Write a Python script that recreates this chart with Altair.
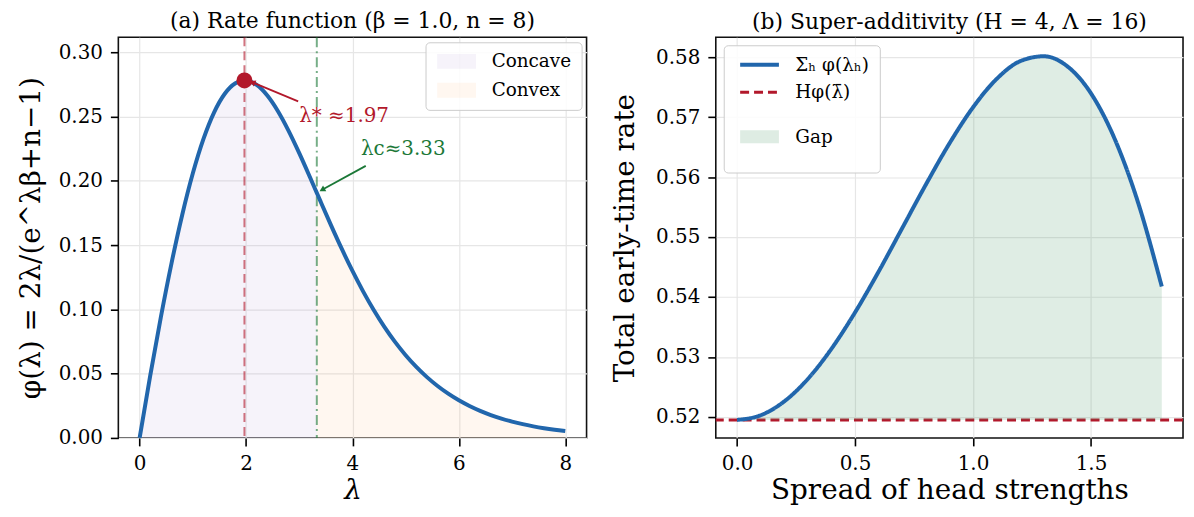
import altair as alt
import pandas as pd

FONT = "DejaVu Serif"
BLUE = "#2166ac"
RED = "#b2182b"
GREEN = "#1b7837"

# ---------------- Panel (a): rate function ----------------
lam = [0.0, 0.2, 0.4, 0.6, 0.8, 1.0, 1.2, 1.4, 1.6, 1.8, 1.97, 2.0, 2.2, 2.4, 2.6,
       2.8, 3.0, 3.2, 3.33, 3.4, 3.6, 3.8, 4.0, 4.2, 4.4, 4.6, 4.8, 5.0, 5.2, 5.4,
       5.6, 5.8, 6.0, 6.2, 6.4, 6.6, 6.8, 7.0, 7.2, 7.4, 7.6, 7.8, 8.0]
phi = [0.0, 0.04865, 0.09421, 0.13602, 0.17343, 0.20580, 0.23256, 0.25327, 0.26771,
       0.27587, 0.27804, 0.27799, 0.27457, 0.26632, 0.25411, 0.23886, 0.22152,
       0.20297, 0.19062, 0.18396, 0.16514, 0.14700, 0.12987, 0.11400, 0.09949,
       0.08640, 0.07470, 0.06434, 0.05524, 0.04728, 0.04037, 0.03439, 0.02924,
       0.02481, 0.02102, 0.01779, 0.01503, 0.01269, 0.01069, 0.00901, 0.00758,
       0.00637, 0.00535]
region_names = ["Concave", "Convex"]
region_colors = ["#8f69c0", "#ff9b43"]
region_opacity = [0.08, 0.08]
lam_star = [1.97]
phi_star = [0.27804]
lam_c = [3.33]

ann_text = ["λ* ≈1.97", "λc≈3.33"]
ann_x = [3.0, 4.16]
ann_y = [0.2502, 0.2247]
arrow_x1 = [2.98, 4.25]
arrow_y1 = [0.2618, 0.2116]
arrow_x2 = [2.12, 3.43]
arrow_y2 = [0.2765, 0.1930]
arrow_angle = [292, 241]
ann_color = [RED, GREEN]

# ---------------- Panel (b): super-additivity ----------------
spread = [0.0, 0.1, 0.2, 0.3, 0.4, 0.5, 0.6, 0.7, 0.8, 0.9, 1.0, 1.1, 1.2, 1.3,
          1.4, 1.5, 1.6, 1.7, 1.8]
total = [0.51950, 0.52028, 0.52259, 0.52633, 0.53136, 0.53742, 0.54423, 0.55148,
         0.55873, 0.56560, 0.57162, 0.57635, 0.57932, 0.58014, 0.57846, 0.57395,
         0.56640, 0.55569, 0.54174]
ref_level = [0.51950]
series_keys = ["sum", "ref", "gap"]
series_colors = [BLUE, RED, "#4f9a68"]
series_dash = [[1, 0], [9, 5], [1, 0]]
series_width = [4, 3, 13]
series_opacity = [1, 1, 0.18]

# ---------------- tables ----------------
curve = pd.DataFrame({"lam": lam, "phi": phi})
concave = curve[curve["lam"] <= lam_c[0]].assign(region=region_names[0])
convex = curve[curve["lam"] >= lam_c[0]].assign(region=region_names[1])
fills = pd.concat([concave, convex], ignore_index=True)
star_df = pd.DataFrame({"lam": lam_star, "phi": phi_star})
vline_star = pd.DataFrame({"lam": lam_star})
vline_c = pd.DataFrame({"lam": lam_c})
ann_df = pd.DataFrame({"lam": ann_x, "phi": ann_y, "txt": ann_text, "c": ann_color})
arrow_df = pd.DataFrame({"lam": arrow_x1, "phi": arrow_y1, "lam2": arrow_x2,
                         "phi2": arrow_y2, "ang": arrow_angle, "c": ann_color})

tot_df = pd.DataFrame({"s": spread, "t": total})
gap_df = tot_df.assign(base=ref_level[0], series="gap")
line_df = tot_df.assign(series="sum")
ref_df = pd.DataFrame({"t": ref_level, "series": ["ref"]})

# ---------------- left panel ----------------
LX_TITLE = "λ"
LY_TITLE = "φ(λ) = 2λ/(e^λβ+n−1)"
lx_scale = alt.Scale(domain=[-0.4, 8.4], nice=False, zero=False)
ly_scale = alt.Scale(domain=[0, 0.3116], nice=False, zero=False)
lx_axis = alt.Axis(values=[0, 2, 4, 6, 8], format="d", titleFontStyle="italic",
                   titlePadding=3)
ly_axis = alt.Axis(values=[0, 0.05, 0.10, 0.15, 0.20, 0.25, 0.30], format=".2f",
                   titlePadding=13)


def LX(f):
    return alt.X(f, type="quantitative", scale=lx_scale, axis=lx_axis, title=LX_TITLE)


def LY(f):
    return alt.Y(f, type="quantitative", scale=ly_scale, axis=ly_axis, title=LY_TITLE,
                 stack=None)


PATCH = "M-1,-1H4.2V1H-1Z"
LINE_SYM = "M-1,0H4.2"

left_legend = alt.Legend(
    title=None, orient="top-right", offset=5,
    symbolType=PATCH, symbolSize=225,
    symbolStrokeWidth=1.5, labelFontSize=18.5, labelOffset=38,
    fillColor="rgba(255,255,255,0.85)", strokeColor="#cccccc", padding=10,
    cornerRadius=4, rowPadding=10,
)

area_a = alt.Chart(fills).mark_area(interpolate="monotone").encode(
    x=LX("lam"), y=LY("phi"),
    color=alt.Color("region:N", scale=alt.Scale(domain=region_names, range=region_colors),
                    legend=left_legend),
    opacity=alt.Opacity("region:N", scale=alt.Scale(type="ordinal", domain=region_names,
                                                    range=region_opacity),
                        legend=left_legend),
)
rule_star = alt.Chart(vline_star).mark_rule(
    color=RED, opacity=0.6, strokeWidth=2, strokeDash=[9, 5]
).encode(x=LX("lam"))
rule_c = alt.Chart(vline_c).mark_rule(
    color=GREEN, opacity=0.6, strokeWidth=2, strokeDash=[10, 4, 2, 4]
).encode(x=LX("lam"))
line_a = alt.Chart(curve).mark_line(color=BLUE, strokeWidth=4, interpolate="monotone").encode(
    x=LX("lam"), y=LY("phi"))
point_a = alt.Chart(star_df).mark_point(filled=True, color=RED, size=260, opacity=1).encode(
    x=LX("lam"), y=LY("phi"))
arrows = alt.Chart(arrow_df).mark_rule(strokeWidth=1.8).encode(
    x=LX("lam"), y=LY("phi"), x2="lam2", y2="phi2",
    color=alt.Color("c:N", scale=None))
heads = alt.Chart(arrow_df).mark_point(shape="triangle-up", filled=True, size=45, opacity=1).encode(
    x=LX("lam2"), y=LY("phi2"), angle=alt.Angle("ang:Q", scale=None),
    color=alt.Color("c:N", scale=None))
texts = alt.Chart(ann_df).mark_text(align="left", baseline="middle", fontSize=20, font=FONT).encode(
    x=LX("lam"), y=LY("phi"), text="txt:N", color=alt.Color("c:N", scale=None))

left = alt.layer(area_a, rule_star, rule_c, line_a, arrows, heads, point_a, texts).properties(
    width=471, height=403, title="(a) Rate function (β = 1.0, n = 8)")

# ---------------- right panel ----------------
RX_TITLE = "Spread of head strengths"
RY_TITLE = "Total early-time rate"
rx_scale = alt.Scale(domain=[-0.09, 1.89], nice=False, zero=False)
ry_scale = alt.Scale(domain=[0.5165, 0.5833], nice=False, zero=False)
rx_axis = alt.Axis(values=[0, 0.5, 1.0, 1.5], format=".1f", titlePadding=3)
ry_axis = alt.Axis(values=[0.52, 0.53, 0.54, 0.55, 0.56, 0.57, 0.58], format=".2f",
                   titlePadding=16)


def RX(f):
    return alt.X(f, type="quantitative", scale=rx_scale, axis=rx_axis, title=RX_TITLE)


def RY(f):
    return alt.Y(f, type="quantitative", scale=ry_scale, axis=ry_axis, title=RY_TITLE)


right_legend = alt.Legend(
    title=None, orient="top-left", offset=8,
    labelExpr="datum.value == 'sum' ? 'Σₕ φ(λₕ)' : (datum.value == 'ref' ? 'Hφ(λ̄)' : 'Gap')",
    symbolSize=225, symbolType=LINE_SYM, labelFontSize=18.5,
    labelOffset=34, fillColor="rgba(255,255,255,0.85)", strokeColor="#cccccc",
    padding=10, cornerRadius=4, rowPadding=9,
)


def enc_series(show_legend):
    lg = right_legend if show_legend else None
    return dict(
        color=alt.Color("series:N", scale=alt.Scale(domain=series_keys, range=series_colors),
                        legend=lg),
        strokeDash=alt.StrokeDash("series:N", scale=alt.Scale(domain=series_keys, range=series_dash),
                                  legend=lg),
        strokeWidth=alt.StrokeWidth("series:N", scale=alt.Scale(type="ordinal", domain=series_keys,
                                                                range=series_width), legend=lg),
        opacity=alt.Opacity("series:N", scale=alt.Scale(type="ordinal", domain=series_keys,
                                                        range=series_opacity), legend=lg),
    )


ref_rule = alt.Chart(ref_df).mark_rule().encode(
    y=RY("t"), **enc_series(True))
gap_area = alt.Chart(gap_df).mark_area(interpolate="monotone").encode(
    x=RX("s"), y=RY("t"), y2="base", **enc_series(False))
sum_line = alt.Chart(line_df).mark_line(interpolate="monotone").encode(
    x=RX("s"), y=RY("t"), **enc_series(True))

right = alt.layer(ref_rule, gap_area, sum_line).properties(
    width=470, height=403, title="(b) Super-additivity (H = 4, Λ = 16)")

chart = alt.hconcat(left, right, spacing=23).resolve_scale(
    color="independent", strokeDash="independent", strokeWidth="independent",
    opacity="independent"
).resolve_legend(
    color="independent", strokeDash="independent", strokeWidth="independent",
    opacity="independent"
).properties(
    padding={"left": 8, "top": 0, "right": 0, "bottom": 0}
).configure(font=FONT).configure_view(
    stroke="#111111", strokeWidth=1.6
).configure_axis(
    labelFont=FONT, labelFontSize=20, labelColor="#000000", labelPadding=8,
    titleFont=FONT, titleFontSize=28, titleFontWeight="normal", titleColor="#000000",
    tickColor="#000000", tickSize=8, tickWidth=1.6, domain=False,
    grid=True, gridColor="#e6e6e6", gridWidth=1.2,
).configure_title(
    font=FONT, fontSize=22, fontWeight="normal", color="#000000", offset=3, anchor="middle"
).configure_legend(
    labelFont=FONT, labelColor="#000000"
)

chart.save("out.html", embed_options={"renderer": "svg", "actions": False})
